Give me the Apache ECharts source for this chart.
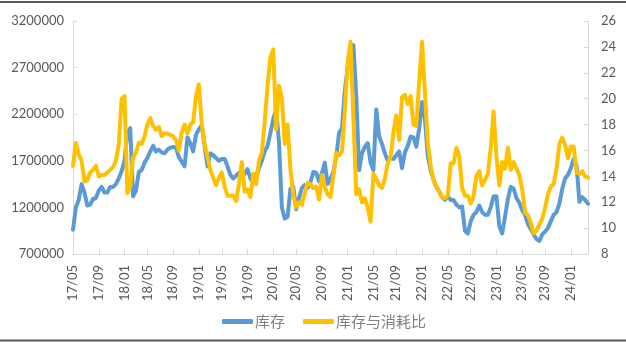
<!DOCTYPE html>
<html>
<head>
<meta charset="utf-8">
<style>
  html, body { margin: 0; padding: 0; background: #ffffff; }
  #chart { width: 626px; height: 343px; }
</style>
<script src="https://cdn.jsdelivr.net/npm/echarts@6/dist/echarts.min.js"></script>
</head>
<body>
<div id="chart"></div>
<script>
// Biweekly observations starting 2017-05-05
const startDate = Date.UTC(2017, 4, 5);
const pointCount = 181;
const stepDays = 14;

// 库存 (left axis)
const inventory = [
  960000, 1200000, 1280000, 1450000, 1360000, 1220000, 1230000, 1290000, 1300000, 1380000,
  1420000, 1360000, 1360000, 1420000, 1420000, 1450000, 1510000, 1590000, 1700000, 2000000,
  2050000, 1320000, 1380000, 1580000, 1600000, 1680000, 1730000, 1800000, 1860000, 1800000,
  1820000, 1790000, 1780000, 1820000, 1840000, 1850000, 1840000, 1740000, 1690000, 1640000,
  1950000, 1890000, 1800000, 1980000, 2040000, 2080000, 1860000, 1640000, 1780000, 1760000,
  1730000, 1700000, 1720000, 1720000, 1640000, 1550000, 1510000, 1540000, 1570000, 1530000,
  1560000, 1610000, 1510000, 1470000, 1530000, 1620000, 1700000, 1800000, 1860000, 2000000,
  2150000, 2250000, 1900000, 1200000, 1080000, 1100000, 1400000, 1420000, 1180000, 1300000,
  1410000, 1440000, 1410000, 1470000, 1580000, 1570000, 1480000, 1570000, 1680000, 1450000,
  1510000, 1580000, 1740000, 2000000, 2050000, 2450000, 2700000, 2930000, 2940000, 2400000,
  1600000, 1780000, 1850000, 1890000, 1680000, 1600000, 2250000, 1960000, 1880000, 1780000,
  1700000, 1730000, 1720000, 1760000, 1800000, 1620000, 1790000, 1860000, 1960000, 1950000,
  1850000, 2050000, 2330000, 2150000, 1750000, 1600000, 1500000, 1420000, 1370000, 1310000,
  1280000, 1320000, 1280000, 1280000, 1230000, 1200000, 1210000, 950000, 920000, 1050000,
  1120000, 1150000, 1220000, 1150000, 1120000, 1120000, 1200000, 1320000, 1320000, 1000000,
  920000, 1100000, 1290000, 1420000, 1400000, 1300000, 1250000, 1170000, 1120000, 1020000,
  970000, 910000, 860000, 840000, 910000, 940000, 980000, 1050000, 1120000, 1150000,
  1240000, 1400000, 1510000, 1550000, 1620000, 1720000, 1650000, 1260000, 1310000, 1280000,
  1240000
];

// 库存与消耗比 (right axis)
const stockRatio = [
  14.8, 16.6, 15.7, 15.2, 13.6, 13.7, 14.3, 14.5, 14.8, 14.0,
  14.1, 14.1, 14.3, 14.5, 14.7, 15.2, 16.5, 20.0, 20.2, 12.7,
  13.2, 15.5, 15.8, 16.6, 16.5, 17.1, 18.0, 18.5, 17.9, 17.6,
  17.8, 17.1, 17.3, 17.3, 17.2, 17.1, 16.8, 16.0, 17.4, 18.0,
  17.3, 18.0, 18.2, 20.2, 21.1, 18.0, 16.5, 15.5, 14.5, 13.9,
  13.3, 13.9, 14.3, 13.2, 12.5, 12.5, 12.5, 12.1, 13.4, 15.1,
  12.8, 13.0, 12.4, 14.2, 13.4, 15.2, 15.8, 18.2, 21.0, 23.2,
  23.8, 17.6, 21.0, 20.0, 16.5, 18.0, 14.5, 12.6, 11.6, 12.0,
  11.8, 12.7, 13.5, 13.4, 13.1, 13.2, 12.2, 14.1, 13.2, 12.6,
  12.4, 14.0, 15.8, 15.6, 15.9, 19.0, 22.8, 24.4, 18.5, 12.6,
  13.0, 12.0, 12.3, 11.6, 10.5, 14.2, 13.8, 13.3, 13.1, 13.8,
  15.0, 15.5, 17.4, 18.7, 16.8, 20.1, 20.3, 19.6, 20.2, 18.0,
  17.9, 21.3, 24.4, 20.5, 16.6, 14.8, 13.7, 13.2, 12.8, 12.4,
  12.3, 12.5, 15.0, 15.0, 16.2, 15.6, 13.1, 12.5, 12.5, 11.9,
  12.5, 14.0, 14.4, 13.3, 13.7, 14.2, 16.2, 19.0, 15.5, 13.3,
  15.1, 14.6, 16.2, 14.5, 15.1, 14.6, 14.1, 13.0, 11.2, 11.0,
  10.4, 9.6, 9.8, 10.3, 10.7, 11.6, 12.6, 13.2, 13.4, 14.6,
  16.5, 17.0, 16.4, 15.4, 16.3, 16.3, 14.3, 14.2, 14.4, 14.0,
  13.9
];

const seriesNames = ['库存', '库存与消耗比'];
const leftTicks = { min: 700000, max: 3200000, interval: 500000 };
const rightTicks = { min: 8, max: 26, interval: 2 };
const labelMonths = [1, 5, 9];

function pad2(n) { return n < 10 ? '0' + n : '' + n; }

const categories = [];
for (let i = 0; i < pointCount; i++) {
  const d = new Date(startDate + i * stepDays * 86400000);
  categories.push(d.getUTCFullYear() + '-' + pad2(d.getUTCMonth() + 1) + '-' + pad2(d.getUTCDate()));
}

// A category opens a labelled period when it is the first entry of Jan/May/Sep
function isPeriodStart(index) {
  const cur = categories[index];
  const m = parseInt(cur.slice(5, 7), 10);
  if (labelMonths.indexOf(m) < 0) return false;
  if (index === 0) return true;
  return categories[index - 1].slice(0, 7) !== cur.slice(0, 7);
}

const textColor = '#595959';
const axisColor = '#d9d9d9';
const numFont = 'Lato';

const chart = echarts.init(document.getElementById('chart'), null, { renderer: 'canvas' });
chart.setOption({
  backgroundColor: '#ffffff',
  animation: false,
  grid: { left: 73, right: 38, top: 21, bottom: 89, containLabel: false },
  legend: {
    data: seriesNames,
    left: 217,
    top: 309,
    icon: 'roundRect',
    itemWidth: 31,
    itemHeight: 5,
    itemGap: 18,
    textStyle: { color: '#7f7f7f', fontSize: 15, fontFamily: 'Noto Sans CJK SC', padding: [0, 0, 0, -3] }
  },
  graphic: [
    { type: 'line', shape: { x1: 0, y1: 2, x2: 626, y2: 2 }, style: { stroke: '#595959', lineWidth: 2 } },
    { type: 'line', shape: { x1: 0, y1: 340.5, x2: 626, y2: 340.5 }, style: { stroke: '#595959', lineWidth: 2 } }
  ],
  xAxis: {
    type: 'category',
    data: categories,
    boundaryGap: false,
    axisLine: { lineStyle: { color: axisColor, width: 1 } },
    axisTick: { inside: true, length: 5, interval: isPeriodStart, lineStyle: { color: axisColor } },
    axisLabel: {
      interval: isPeriodStart,
      rotate: 90,
      margin: 11,
      color: textColor,
      fontSize: 13,
      fontFamily: numFont,
      formatter: function (v) { return v.slice(2, 4) + '/' + v.slice(5, 7); }
    },
    splitLine: { show: false }
  },
  yAxis: [
    {
      type: 'value',
      min: leftTicks.min, max: leftTicks.max, interval: leftTicks.interval,
      axisLine: { show: true, lineStyle: { color: axisColor } },
      axisTick: { show: true, inside: true, length: 4, lineStyle: { color: axisColor } },
      axisLabel: { color: textColor, fontSize: 13, fontFamily: numFont, margin: 9, formatter: function (v) { return String(v); } },
      splitLine: { show: false }
    },
    {
      type: 'value',
      min: rightTicks.min, max: rightTicks.max, interval: rightTicks.interval,
      axisLine: { show: true, lineStyle: { color: axisColor } },
      axisTick: { show: true, inside: true, length: 4, lineStyle: { color: axisColor } },
      axisLabel: { color: textColor, fontSize: 13, fontFamily: numFont, margin: 13, formatter: function (v) { return String(v); } },
      splitLine: { show: false }
    }
  ],
  series: [
    {
      name: seriesNames[0],
      type: 'line',
      yAxisIndex: 0,
      data: inventory,
      showSymbol: false,
      symbol: 'none',
      lineStyle: { color: '#5b9bd5', width: 4, join: 'round', cap: 'round' },
      itemStyle: { color: '#5b9bd5' },
      z: 2
    },
    {
      name: seriesNames[1],
      type: 'line',
      yAxisIndex: 1,
      data: stockRatio,
      showSymbol: false,
      symbol: 'none',
      lineStyle: { color: '#ffc000', width: 4, join: 'round', cap: 'round' },
      itemStyle: { color: '#ffc000' },
      z: 3
    }
  ]
});
</script>
</body>
</html>
